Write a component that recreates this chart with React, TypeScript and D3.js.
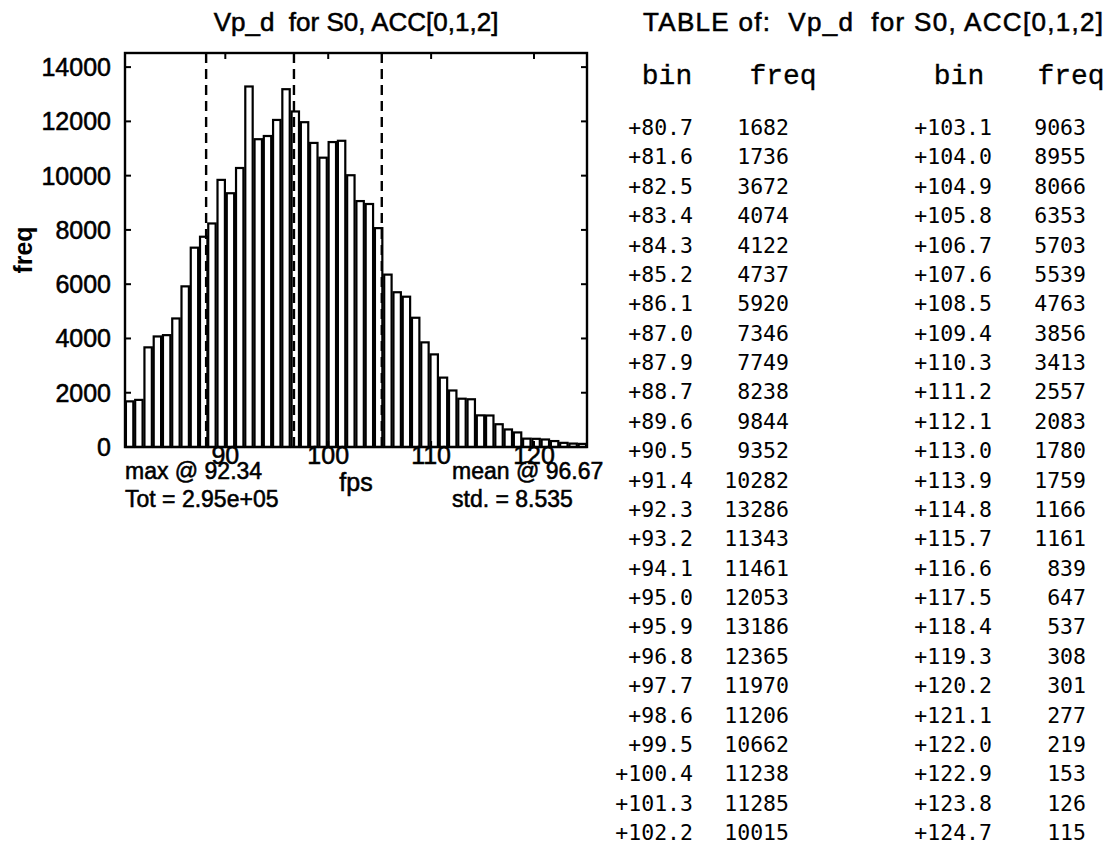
import * as d3 from "d3";

const bins = [
  80.7, 81.6, 82.5, 83.4, 84.3, 85.2, 86.1, 87.0, 87.9, 88.7, 89.6, 90.5, 91.4,
  92.3, 93.2, 94.1, 95.0, 95.9, 96.8, 97.7, 98.6, 99.5, 100.4, 101.3, 102.2,
  103.1, 104.0, 104.9, 105.8, 106.7, 107.6, 108.5, 109.4, 110.3, 111.2, 112.1,
  113.0, 113.9, 114.8, 115.7, 116.6, 117.5, 118.4, 119.3, 120.2, 121.1, 122.0,
  122.9, 123.8, 124.7,
];
const freqs = [
  1682, 1736, 3672, 4074, 4122, 4737, 5920, 7346, 7749, 8238, 9844, 9352, 10282,
  13286, 11343, 11461, 12053, 13186, 12365, 11970, 11206, 10662, 11238, 11285,
  10015, 9063, 8955, 8066, 6353, 5703, 5539, 4763, 3856, 3413, 2557, 2083, 1780,
  1759, 1166, 1161, 839, 647, 537, 308, 301, 277, 219, 153, 126, 115,
];
const binLabels = bins.map((b) => "+" + b.toFixed(1));

const meanVal = 96.67;
const stdVal = 8.535;
const titleText = "Vp_d  for S0, ACC[0,1,2]";
const statsLeft = ["max @ 92.34", "Tot = 2.95e+05"];
const statsRight = ["mean @ 96.67", "std. = 8.535"];

const W = 1115;
const H = 849;
const plot = { left: 125, right: 587, top: 53, bottom: 447 };
const sans = "'Liberation Sans', Arial, Helvetica, sans-serif";
const mono = "'DejaVu Sans Mono', 'Liberation Mono', monospace";
const ink = { fill: "#000", stroke: "#000", strokeWidth: 0.55 };

export default function App() {
  const n = bins.length;
  const binW = (bins[n - 1] - bins[0]) / (n - 1);

  const x = d3
    .scaleLinear()
    .domain([bins[0] - binW / 2, bins[n - 1] + binW / 2])
    .range([plot.left, plot.right]);
  const y = d3.scaleLinear().domain([0, 14520]).range([plot.bottom, plot.top]);

  const yTicks = y.ticks(7).filter((t) => t <= 14000);
  const xTicks = x.ticks(5);
  const barW = x(bins[0] + binW * 0.8) - x(bins[0]);
  const dashed = [meanVal - stdVal, meanVal, meanVal + stdVal];

  // table layout
  const half = Math.ceil(n / 2);
  const rowY = d3.scaleLinear().domain([0, half - 1]).range([135, 840]);
  const cols = [
    { bin: 693, freq: 789, binHead: 667, freqHead: 783 },
    { bin: 992, freq: 1086, binHead: 959, freqHead: 1071 },
  ];

  return (
    <svg
      width={W}
      height={H}
      style={{ position: "absolute", left: 0, top: 0, background: "#fff" }}
    >
      <rect width={W} height={H} fill="#fff" />

      {/* title */}
      <text
        x={(plot.left + plot.right) / 2}
        y={31}
        textAnchor="middle"
        fontFamily={sans}
        fontSize={26}
        {...ink}
        style={{ whiteSpace: "pre" }}
      >
        {titleText}
      </text>

      {/* bars */}
      <g>
        {bins.map((b, i) => (
          <rect
            key={i}
            x={x(b) - barW / 2}
            y={y(freqs[i])}
            width={barW}
            height={y(0) - y(freqs[i])}
            fill="#fff"
            stroke="#000"
            strokeWidth={2.2}
          />
        ))}
      </g>

      {/* mean and +/- std lines */}
      {dashed.map((d, i) => (
        <line
          key={i}
          x1={x(d)}
          x2={x(d)}
          y1={plot.top}
          y2={plot.bottom}
          stroke="#000"
          strokeWidth={2.4}
          strokeDasharray="10,6"
        />
      ))}

      {/* frame */}
      <rect
        x={plot.left}
        y={plot.top}
        width={plot.right - plot.left}
        height={plot.bottom - plot.top}
        fill="none"
        stroke="#000"
        strokeWidth={2.4}
      />

      {/* y ticks */}
      {yTicks.map((t) => (
        <g key={t}>
          <line x1={plot.left} x2={plot.left + 6} y1={y(t)} y2={y(t)} stroke="#000" strokeWidth={2} />
          <line x1={plot.right} x2={plot.right - 6} y1={y(t)} y2={y(t)} stroke="#000" strokeWidth={2} />
          <text
            x={plot.left - 14}
            y={y(t) + 9}
            textAnchor="end"
            fontFamily={sans}
            fontSize={25}
            {...ink}
          >
            {t}
          </text>
        </g>
      ))}

      {/* x ticks */}
      {xTicks.map((t) => (
        <g key={t}>
          <line x1={x(t)} x2={x(t)} y1={plot.top} y2={plot.top + 6} stroke="#000" strokeWidth={2} />
          <line x1={x(t)} x2={x(t)} y1={plot.bottom} y2={plot.bottom - 6} stroke="#000" strokeWidth={2} />
          <text x={x(t)} y={464} textAnchor="middle" fontFamily={sans} fontSize={25} {...ink}>
            {t}
          </text>
        </g>
      ))}

      {/* axis labels */}
      <text
        transform={`translate(32,250) rotate(-90)`}
        textAnchor="middle"
        fontFamily={sans}
        fontSize={25}
        fontWeight="bold"
      >
        freq
      </text>
      <text
        x={(plot.left + plot.right) / 2}
        y={491}
        textAnchor="middle"
        fontFamily={sans}
        fontSize={25}
        {...ink}
      >
        fps
      </text>

      {/* stats */}
      {statsLeft.map((s, i) => (
        <text key={s} x={plot.left} y={479 + i * 28} fontFamily={sans} fontSize={23} {...ink}>
          {s}
        </text>
      ))}
      {statsRight.map((s, i) => (
        <text key={s} x={452} y={479 + i * 28} fontFamily={sans} fontSize={23} {...ink}>
          {s}
        </text>
      ))}

      {/* table */}
      <text
        x={643}
        y={31}
        fontFamily={sans}
        fontSize={26}
        textLength={460}
        lengthAdjust="spacing"
        {...ink}
        style={{ whiteSpace: "pre" }}
      >
        {"TABLE of:  " + titleText}
      </text>
      {cols.map((c, ci) => (
        <g key={ci}>
          <text x={c.binHead} y={84} textAnchor="middle" fontFamily="'Liberation Mono', monospace" fontSize={28} fill="#000" stroke="#000" strokeWidth={0.3}>
            bin
          </text>
          <text x={c.freqHead} y={84} textAnchor="middle" fontFamily="'Liberation Mono', monospace" fontSize={28} fill="#000" stroke="#000" strokeWidth={0.3}>
            freq
          </text>
          {binLabels.slice(ci * half, (ci + 1) * half).map((b, ri) => (
            <g key={ri}>
              <text x={c.bin} y={rowY(ri)} textAnchor="end" fontFamily={mono} fontSize={21.5}>
                {b}
              </text>
              <text x={c.freq} y={rowY(ri)} textAnchor="end" fontFamily={mono} fontSize={21.5}>
                {freqs[ci * half + ri]}
              </text>
            </g>
          ))}
        </g>
      ))}
    </svg>
  );
}
